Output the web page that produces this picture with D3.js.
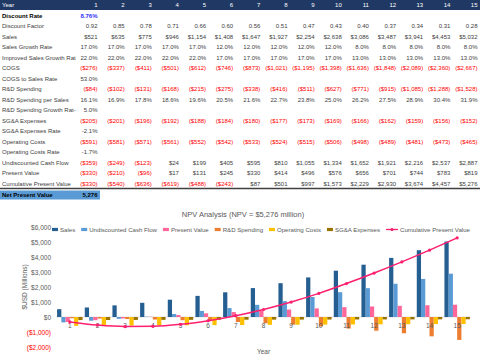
<!DOCTYPE html>
<html><head><meta charset="utf-8">
<script src="https://cdn.jsdelivr.net/npm/d3@7"></script>
<style>
html,body{margin:0;padding:0;background:#fff;}
svg{display:block;font-family:"Liberation Sans",Arial,sans-serif;}
</style></head>
<body>
<svg id="c" width="480" height="364"></svg>
<script>
// ---------- data ----------
const years = [1,2,3,4,5,6,7,8,9,10,11,12,13,14,15];
const discountRate = 8.76;
const discountFactor = [0.92,0.85,0.78,0.71,0.66,0.60,0.56,0.51,0.47,0.43,0.40,0.37,0.34,0.31,0.28];
const sales = [521,635,775,946,1154,1408,1647,1927,2254,2638,3086,3487,3941,4453,5032];
const salesGrowth = [17,17,17,17,17,12,12,12,12,12,8,8,8,8,8];
const improvedGrowth = [22,22,22,22,22,17,17,17,17,17,13,13,13,13,13];
const cogs = [-276,-337,-411,-501,-612,-746,-873,-1021,-1195,-1398,-1636,-1848,-2089,-2360,-2667];
const cogsRate = [53.0];
const rnd = [-84,-102,-131,-168,-215,-275,-338,-416,-511,-627,-771,-915,-1085,-1288,-1528];
const rndPerSales = [16.1,16.9,17.8,18.6,19.6,20.5,21.6,22.7,23.8,25.0,26.2,27.5,28.9,30.4,31.9];
const rndGrowth = [5.0];
const sga = [-205,-201,-196,-192,-188,-184,-180,-177,-173,-169,-166,-162,-159,-156,-152];
const sgaRate = [-2.1];
const opCosts = [-591,-581,-571,-561,-552,-542,-533,-524,-515,-506,-498,-489,-481,-473,-465];
const opRate = [-1.7];
const undiscounted = [-359,-249,-123,24,199,405,595,810,1055,1334,1652,1921,2216,2537,2887];
const presentValue = [-330,-210,-96,17,131,245,330,414,496,576,656,701,744,783,819];
const cumulativePV = [-330,-540,-636,-619,-488,-243,87,501,997,1573,2229,2930,3674,4457,5276];
const npv = 5276;
const yTicks = [-2000,-1000,0,1000,2000,3000,4000,5000,6000];

// ---------- table ----------
const svg = d3.select("#c");
const grey = "#404040", red = "#FF0000";
const money = v => (v < 0 ? "($" + d3.format(",")(-v) + ")" : "$" + d3.format(",")(v));
const pct = v => v.toFixed(1) + "%";

const rows = [
  {label:"Discount Rate", vals:[discountRate], fmt:v=>v.toFixed(2)+"%", bold:true, color:"#3333FF"},
  {label:"Discount Factor", vals:discountFactor, fmt:v=>v.toFixed(2)},
  {label:"Sales", vals:sales, fmt:money},
  {label:"Sales Growth Rate", vals:salesGrowth, fmt:pct},
  {label:"Improved Sales Growth Rat", vals:improvedGrowth, fmt:pct},
  {label:"COGS", vals:cogs, fmt:money},
  {label:"COGS to Sales Rate", vals:cogsRate, fmt:pct},
  {label:"R&D Spending", vals:rnd, fmt:money},
  {label:"R&D Spending per Sales", vals:rndPerSales, fmt:pct},
  {label:"R&D Spending Growth Rat-", vals:rndGrowth, fmt:pct},
  {label:"SG&A Expenses", vals:sga, fmt:money},
  {label:"SG&A Expenses Rate", vals:sgaRate, fmt:pct},
  {label:"Operating Costs", vals:opCosts, fmt:money},
  {label:"Operating Costs Rate", vals:opRate, fmt:pct},
  {label:"Undiscounted Cash Flow", vals:undiscounted, fmt:money},
  {label:"Present Value", vals:presentValue, fmt:money},
  {label:"Cumulative Present Value", vals:cumulativePV, fmt:money}
];

const rowY = i => 5 + i * 10.5;           // i=0 header
const colX = d3.scaleLinear().domain([1, 15]).range([97.5, 477.5]);
const tfs = 6;

const tbl = svg.append("g").attr("font-size", tfs);
tbl.append("rect").attr("x",0).attr("y",0).attr("width",480).attr("height",10).attr("fill","#1F3864");
tbl.append("text").attr("x",2).attr("y",rowY(0)).attr("dy","0.35em").attr("fill","#fff").text("Year");
years.forEach(y => tbl.append("text").attr("x",colX(y)).attr("y",rowY(0)).attr("dy","0.35em")
  .attr("text-anchor","end").attr("fill","#fff").text(y));

rows.forEach((r, i) => {
  const yy = rowY(i + 1);
  tbl.append("text").attr("x",2).attr("y",yy).attr("dy","0.35em").attr("fill", r.bold ? "#000" : grey)
    .attr("font-weight", r.bold ? "bold" : null).text(r.label);
  r.vals.forEach((v, j) => {
    const isMoney = r.fmt === money;
    tbl.append("text").attr("x", colX(years[j])).attr("y", yy).attr("dy","0.35em")
      .attr("text-anchor","end")
      .attr("font-weight", r.bold ? "bold" : null)
      .attr("fill", r.color ? r.color : (isMoney && v < 0 ? red : grey))
      .text(r.fmt(v));
  });
});
// separator and NPV
tbl.append("line").attr("x1",0).attr("x2",480).attr("y1",188.5).attr("y2",188.5).attr("stroke","#404040").attr("stroke-width",1.5);
tbl.append("rect").attr("x",0).attr("y",190.5).attr("width",100).attr("height",9).attr("fill","#5B9BD5");
tbl.append("text").attr("x",2).attr("y",195).attr("dy","0.35em").attr("font-weight","bold").attr("fill","#000").text("Net Present Value");
tbl.append("text").attr("x",colX(1)).attr("y",195).attr("dy","0.35em").attr("text-anchor","end").attr("font-weight","bold").attr("fill","#000").text(d3.format(",")(npv));

// ---------- chart ----------
const series = [
  {name:"Sales", values:sales, color:"#255E91"},
  {name:"Undiscounted Cash Flow", values:undiscounted, color:"#5B9BD5"},
  {name:"Present Value", values:presentValue, color:"#FF6699"},
  {name:"R&D Spending", values:rnd, color:"#ED7D31"},
  {name:"Operating Costs", values:opCosts, color:"#FFC000"},
  {name:"SG&A Expenses", values:sga, color:"#997300"}
];
const lineColor = "#FF1F6E";

const x = d3.scaleBand().domain(years).range([56, 471]).paddingInner(0.08).paddingOuter(0.04);
const xs = d3.scaleBand().domain(series.map(s => s.name)).range([0, x.bandwidth()]);
const y = d3.scaleLinear().domain([-2000, 6000]).range([347, 227]);

const ch = svg.append("g");
ch.append("text").attr("x",243).attr("y",214).attr("dy","0.35em").attr("text-anchor","middle")
  .attr("font-size",7.5).attr("fill","#595959").text("NPV Analysis  (NPV = $5,276 million)");

// y axis labels
const yAxis = d3.axisLeft(y).tickValues(yTicks).tickSize(0).tickPadding(0)
  .tickFormat(v => v < 0 ? "($" + d3.format(",")(-v) + ")" : "$" + d3.format(",")(v));
const ya = ch.append("g").attr("transform","translate(51,0)").call(yAxis);
ya.select(".domain").remove();
ya.selectAll("text").attr("font-size",6.5).attr("font-family","Liberation Sans, Arial, sans-serif")
  .attr("fill", v => v < 0 ? red : "#595959");

ch.append("text").attr("transform","translate(25,287) rotate(-90)").attr("text-anchor","middle")
  .attr("dy","0.35em").attr("font-size",6.5).attr("fill","#595959").text("$USD (Millions)");

// zero line
ch.append("line").attr("x1",56).attr("x2",471).attr("y1",y(0)).attr("y2",y(0)).attr("stroke","#D9D9D9").attr("stroke-width",0.8);

// bars
series.forEach(s => {
  ch.append("g").selectAll("rect").data(years).join("rect")
    .attr("x", (d) => x(d) + xs(s.name))
    .attr("width", xs.bandwidth())
    .attr("y", (d, i) => y(Math.max(0, s.values[i])))
    .attr("height", (d, i) => Math.abs(y(s.values[i]) - y(0)))
    .attr("fill", s.color);
});

// x axis labels
const xAxis = d3.axisBottom(x).tickSize(0).tickPadding(6);
const xa = ch.append("g").attr("transform",`translate(0,${y(0)})`).call(xAxis);
xa.select(".domain").remove();
xa.selectAll("text").attr("font-size",6.5).attr("font-family","Liberation Sans, Arial, sans-serif").attr("fill","#595959");

ch.append("text").attr("x",263.5).attr("y",352).attr("dy","0.35em").attr("text-anchor","middle")
  .attr("font-size",6.5).attr("fill","#595959").text("Year");

// cumulative line
const cx = d => x(d) + x.bandwidth() / 2;
const line = d3.line().x(d => cx(d)).y((d, i) => y(cumulativePV[i])).curve(d3.curveMonotoneX);
ch.append("path").datum(years).attr("d", line).attr("fill","none").attr("stroke",lineColor).attr("stroke-width",1.5);
ch.append("g").selectAll("circle").data(years).join("circle")
  .attr("cx", d => cx(d)).attr("cy", (d, i) => y(cumulativePV[i])).attr("r",1.6).attr("fill",lineColor);

// legend
const lg = ch.append("g").attr("font-size",6.1).attr("fill","#595959");
const items = series.map(s => ({name:s.name, color:s.color, type:"bar"}))
  .concat([{name:"Cumulative Present Value", color:lineColor, type:"line"}]);
let lx = 0;
const ly = 229.5;
const placed = [];
items.forEach(it => {
  const g = lg.append("g");
  const kw = it.type === "bar" ? 6 : 12;
  if (it.type === "bar") {
    g.append("rect").attr("x",0).attr("y",ly-1.6).attr("width",6).attr("height",3.2).attr("fill",it.color);
  } else {
    g.append("line").attr("x1",0).attr("x2",12).attr("y1",ly).attr("y2",ly).attr("stroke",it.color).attr("stroke-width",1.3);
    g.append("circle").attr("cx",6).attr("cy",ly).attr("r",1.6).attr("fill",it.color);
  }
  const t = g.append("text").attr("x",kw+2).attr("y",ly).attr("dy","0.35em").text(it.name);
  const w = kw + 2 + t.node().getComputedTextLength();
  placed.push({g, w});
});
const left = 52, right = 470;
const gap = Math.max(2, (right - left - d3.sum(placed, p => p.w)) / (placed.length - 1));
lx = left;
placed.forEach(p => { p.g.attr("transform",`translate(${lx},0)`); lx += p.w + gap; });
</script>
</body></html>
